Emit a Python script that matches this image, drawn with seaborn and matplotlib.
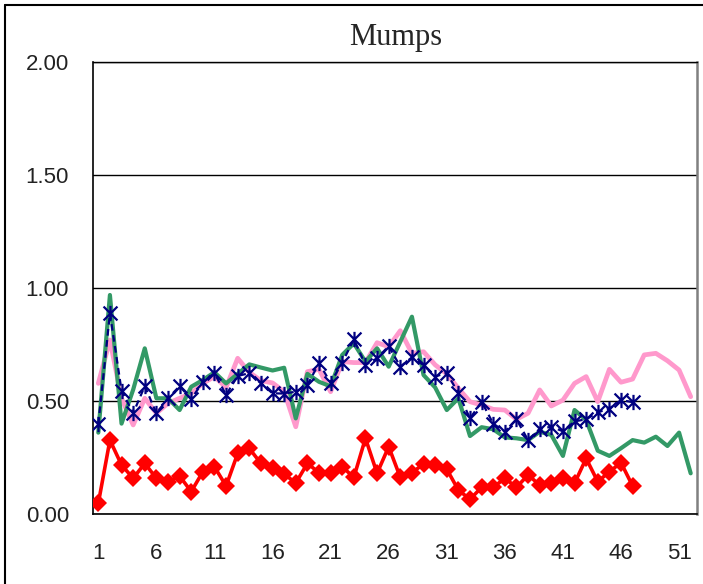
import matplotlib
matplotlib.use("Agg")
import matplotlib.pyplot as plt
from matplotlib.lines import Line2D
from matplotlib.path import Path
import seaborn as sns
import pandas as pd

# weekly values
weeks_pink = list(range(1, 53))
pink = [0.578, 0.77, 0.512, 0.394, 0.512, 0.446, 0.49, 0.512, 0.534, 0.578,
        0.608, 0.56, 0.689, 0.627, 0.59, 0.58, 0.541, 0.386, 0.63, 0.64,
        0.541, 0.674, 0.67, 0.67, 0.758, 0.74, 0.811, 0.711, 0.718, 0.66,
        0.62, 0.556, 0.497, 0.482, 0.463, 0.46, 0.419, 0.446, 0.549, 0.478,
        0.504, 0.578, 0.608, 0.497, 0.64, 0.583, 0.597, 0.704, 0.711, 0.678,
        0.637, 0.519]

weeks_green = list(range(1, 53))
green = [0.36, 0.969, 0.40, 0.55, 0.733, 0.512, 0.512, 0.46, 0.563, 0.593,
         0.627, 0.578, 0.62, 0.662, 0.648, 0.635, 0.647, 0.423, 0.62, 0.585,
         0.565, 0.704, 0.755, 0.674, 0.733, 0.652, 0.762, 0.873, 0.615, 0.56,
         0.46, 0.512, 0.345, 0.384, 0.375, 0.339, 0.335, 0.327, 0.364, 0.35,
         0.257, 0.46, 0.416, 0.28, 0.257, 0.291, 0.327, 0.316, 0.342, 0.301,
         0.36, 0.18]

weeks_navy = list(range(1, 48))
navy = [0.398, 0.888, 0.546, 0.446, 0.566, 0.446, 0.512, 0.566, 0.508, 0.585,
        0.623, 0.527, 0.611, 0.623, 0.578, 0.534, 0.533, 0.541, 0.571, 0.667,
        0.581, 0.67, 0.773, 0.66, 0.689, 0.743, 0.652, 0.693, 0.659, 0.608,
        0.625, 0.534, 0.423, 0.497, 0.40, 0.364, 0.419, 0.327, 0.377, 0.386,
        0.366, 0.41, 0.419, 0.45, 0.466, 0.504, 0.495]

weeks_red = list(range(1, 48))
red = [0.047, 0.327, 0.217, 0.158, 0.224, 0.158, 0.143, 0.168, 0.099, 0.187,
       0.209, 0.124, 0.268, 0.29, 0.224, 0.202, 0.177, 0.137, 0.224, 0.183,
       0.183, 0.209, 0.162, 0.335, 0.18, 0.298, 0.162, 0.183, 0.221, 0.217,
       0.198, 0.106, 0.065, 0.118, 0.118, 0.158, 0.118, 0.173, 0.128, 0.136,
       0.158, 0.136, 0.246, 0.143, 0.187, 0.227, 0.124]

x_labels = [1, 6, 11, 16, 21, 26, 31, 36, 41, 46, 51]
y_ticks = [0.0, 0.5, 1.0, 1.5, 2.0]

sns.set_style("white")
plt.rcParams["font.family"] = ["Liberation Sans", "DejaVu Sans"]

W, H = 703, 584
fig = plt.figure(figsize=(W / 100, H / 100), dpi=100)
ax = fig.add_axes([92.5 / W, 1 - 514 / H, (696.5 - 92.5) / W, (514 - 62) / H])

# Excel style star marker: an x with a vertical bar
star = Path([(-1, -1), (1, 1), (-1, 1), (1, -1), (0, -1.1), (0, 1.1)],
            [Path.MOVETO, Path.LINETO, Path.MOVETO, Path.LINETO, Path.MOVETO, Path.LINETO])

df_pink = pd.DataFrame({"week": weeks_pink, "value": pink})
df_green = pd.DataFrame({"week": weeks_green, "value": green})
df_navy = pd.DataFrame({"week": weeks_navy, "value": navy})
df_red = pd.DataFrame({"week": weeks_red, "value": red})

sns.lineplot(data=df_pink, x="week", y="value", ax=ax, color="#FF99CC", linewidth=3.4, zorder=3)
sns.lineplot(data=df_green, x="week", y="value", ax=ax, color="#339966", linewidth=3.0, zorder=4)
sns.lineplot(data=df_navy, x="week", y="value", ax=ax, color="#000080", linewidth=1.6,
             linestyle=(0, (3, 2)), marker=star, markersize=11, markeredgewidth=1.6,
             markeredgecolor="#000080", zorder=5)
sns.lineplot(data=df_red, x="week", y="value", ax=ax, color="#FF0000", linewidth=2.6,
             marker="D", markersize=9.5, markeredgewidth=0, markerfacecolor="#FF0000", zorder=6)

ax.set_xlim(0.5, 52.5)
ax.set_ylim(0, 2)
ax.set_xlabel("")
ax.set_ylabel("")

ax.set_yticks(y_ticks)
ax.set_yticklabels([f"{v:.2f}" for v in y_ticks])
ax.set_xticks(x_labels)
ax.set_xticklabels([str(v) for v in x_labels])
ax.set_xticks([k + 0.5 for k in range(5, 51, 5)], minor=True)

ax.tick_params(axis="y", length=0, pad=17, labelsize=16, colors="#222222")
ax.tick_params(axis="x", which="major", length=0, pad=21, labelsize=16, colors="#222222")
ax.tick_params(axis="x", which="minor", direction="in", length=5, width=1, color="black")

ax.yaxis.grid(True, color="black", linewidth=1)
ax.xaxis.grid(False)
ax.set_axisbelow(True)

for side in ["left", "bottom"]:
    ax.spines[side].set_color("black")
    ax.spines[side].set_linewidth(1.2)
ax.spines["top"].set_color("black")
ax.spines["top"].set_linewidth(1)
ax.spines["right"].set_color("#808080")
ax.spines["right"].set_linewidth(1.8)

fig.text(396 / W, 1 - 38 / H, "Mumps", ha="center", va="center",
         family=["Liberation Serif", "DejaVu Serif"], fontsize=22)

# outer chart frame (only the left and top edges fall inside the image)
fig.add_artist(Line2D([5 / W, 5 / W], [0, 1 - 5 / H], color="black", linewidth=1.5))
fig.add_artist(Line2D([5 / W, 1], [1 - 5 / H, 1 - 5 / H], color="black", linewidth=1.5))

fig.savefig("out.png", dpi=100)
